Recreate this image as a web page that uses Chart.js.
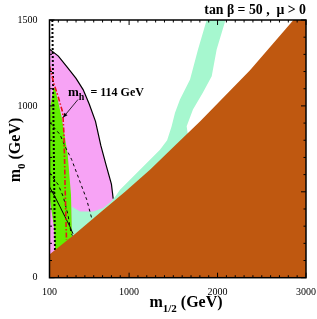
<!DOCTYPE html>
<html>
<head>
<meta charset="utf-8">
<script src="https://cdn.jsdelivr.net/npm/chart.js@4.4.1/dist/chart.umd.min.js"></script>
<style>
  body { margin: 0; background: #fff; }
  #wrap { width: 317px; height: 319px; }
</style>
</head>
<body>
<div id="wrap"><canvas id="plot"></canvas></div>
<script>
// axis ticks
const xTicks = [100, 1000, 2000, 3000];
const yTicks = [0, 1000, 1500];

// regions, [m1/2, m0] in GeV
const stauRegion = [[100, 0], [100, 135], [388, 255], [671, 378], [954, 501], [1236, 629],
  [1519, 769], [1801, 909], [2367, 1207], [2858, 1500], [3000, 1500], [3000, 0]];
const g2Region = [[90, 1335], [200, 1290], [300, 1225], [400, 1160], [480, 1095], [550, 1010],
  [620, 910], [680, 770], [740, 655], [800, 545], [820, 460], [820, 0], [90, 0]];
const relicRegion = [[1877, 1500], [2090, 1500], [1990, 1329], [1934, 1173], [1835, 1078],
  [1722, 979], [1651, 881], [1700, 700], [1200, 400], [351, 100], [351, 414], [445, 385],
  [595, 385], [708, 405], [790, 440], [840, 470], [897, 512], [1010, 570], [1123, 629],
  [1236, 687], [1349, 745], [1430, 800], [1480, 880], [1519, 960], [1575, 1037],
  [1689, 1154], [1779, 1329]];
const bsgRegion = [[162, 1107], [200, 1020], [238, 932], [306, 716], [343, 483], [354, 249],
  [354, 0], [165, 0], [165, 150], [150, 300], [120, 400], [95, 500], [95, 800], [110, 1000],
  [140, 1090]];

// contours
const g2Edge = g2Region.slice(0, 11);
const higgsLine = [[100, 1230], [150, 1130], [200, 1050], [250, 960], [262, 850], [270, 700],
  [276, 540], [292, 220]];
const dashedA = [[100, 905], [219, 833], [275, 765], [351, 687], [449, 553], [521, 454], [580, 340]];
const dashedB = [[100, 611], [199, 541], [256, 471], [309, 366], [343, 261], [360, 245]];
const solidC = [[100, 529], [162, 471], [219, 413], [275, 355], [332, 296], [366, 255]];
const charginoLine = [[132, 1500], [162, 150]];
const higgsArrow = [[422, 1037], [253, 932]];
const higgsLabelAt = [309, 1078];

const pts = arr => arr.map(p => ({ x: p[0], y: p[1] }));

const serif = '"Liberation Serif", "DejaVu Serif", serif';

function area(data, color, order) {
  return {
    data: pts(data), showLine: true, fill: 'shape', backgroundColor: color,
    borderWidth: 0, pointRadius: 0, order: order, tension: 0
  };
}
function curve(data, dash, width, color, order) {
  return {
    data: pts(data), showLine: true, fill: false, borderColor: color || '#000',
    borderWidth: width, borderDash: dash, pointRadius: 0, order: order, tension: 0
  };
}

// subscript text helper
function drawSub(ctx, parts, x, y, align) {
  let total = 0;
  parts.forEach(p => { ctx.font = p.font; total += ctx.measureText(p.t).width; });
  let cx = align === 'center' ? x - total / 2 : (align === 'right' ? x - total : x);
  parts.forEach(p => {
    ctx.font = p.font;
    ctx.fillText(p.t, cx, y + (p.dy || 0));
    cx += ctx.measureText(p.t).width;
  });
}

const decor = {
  id: 'decor',
  afterDatasetsDraw(chart) {
    const { ctx, chartArea: a, scales: { x, y } } = chart;
    ctx.save();
    ctx.strokeStyle = '#000';
    ctx.fillStyle = '#000';
    // inward ticks
    ctx.lineWidth = 1;
    for (let v = 100; v <= 3000; v += 100) {
      const px = x.getPixelForValue(v);
      const len = v % 1000 === 0 ? 5 : 2.5;
      ctx.beginPath();
      ctx.moveTo(px, a.bottom); ctx.lineTo(px, a.bottom - len);
      ctx.moveTo(px, a.top); ctx.lineTo(px, a.top + len);
      ctx.stroke();
    }
    for (let v = 0; v <= 1500; v += 100) {
      const py = y.getPixelForValue(v);
      const len = v % 500 === 0 ? 5 : 2.5;
      ctx.beginPath();
      ctx.moveTo(a.left, py); ctx.lineTo(a.left + len, py);
      ctx.moveTo(a.right, py); ctx.lineTo(a.right - len, py);
      ctx.stroke();
    }
    // frame
    ctx.lineWidth = 1.5;
    ctx.strokeRect(a.left, a.top, a.right - a.left, a.bottom - a.top);

    // arrow to the m_h line
    const x0 = x.getPixelForValue(higgsArrow[0][0]), y0 = y.getPixelForValue(higgsArrow[0][1]);
    const x1 = x.getPixelForValue(higgsArrow[1][0]), y1 = y.getPixelForValue(higgsArrow[1][1]);
    ctx.lineWidth = 0.8;
    ctx.beginPath(); ctx.moveTo(x0, y0); ctx.lineTo(x1, y1); ctx.stroke();
    const ang = Math.atan2(y1 - y0, x1 - x0);
    ctx.beginPath();
    ctx.moveTo(x1, y1);
    ctx.lineTo(x1 - 5 * Math.cos(ang - 0.4), y1 - 5 * Math.sin(ang - 0.4));
    ctx.lineTo(x1 - 5 * Math.cos(ang + 0.4), y1 - 5 * Math.sin(ang + 0.4));
    ctx.closePath(); ctx.fill();

    // m_h label
    ctx.textBaseline = 'alphabetic';
    const lx = x.getPixelForValue(higgsLabelAt[0]), ly = y.getPixelForValue(higgsLabelAt[1]);
    drawSub(ctx, [
      { t: 'm', font: 'bold 13px ' + serif },
      { t: 'h', font: 'bold 10px ' + serif, dy: 4 },
      { t: '  = 114 GeV', font: 'bold 12px ' + serif }
    ], lx, ly + 4, 'left');

    // title
    drawSub(ctx, [{ t: 'tan \u03B2 = 50 ,  \u03BC > 0', font: 'bold 13.8px ' + serif }], 306, 14, 'right');

    // x axis title
    drawSub(ctx, [
      { t: 'm', font: 'bold 16px ' + serif },
      { t: '1/2', font: 'bold 11px ' + serif, dy: 5 },
      { t: ' (GeV)', font: 'bold 16px ' + serif }
    ], 186, 307, 'center');

    // y axis title
    ctx.translate(20, 150);
    ctx.rotate(-Math.PI / 2);
    drawSub(ctx, [
      { t: 'm', font: 'bold 16px ' + serif },
      { t: '0', font: 'bold 11px ' + serif, dy: 5 },
      { t: ' (GeV)', font: 'bold 16px ' + serif }
    ], 0, 0, 'center');
    ctx.restore();
  }
};

new Chart(document.getElementById('plot').getContext('2d'), {
  type: 'scatter',
  data: {
    datasets: [
      area(stauRegion, '#bf5810', 1),
      curve(higgsLine, [5, 2, 1.5, 2], 1.6, '#e8141e', 2),
      curve(charginoLine, [2, 2], 2, '#000', 3),
      curve(dashedA, [3, 3], 1, '#000', 3),
      curve(dashedB, [3, 3], 1, '#000', 3),
      curve(solidC, [], 1, '#000', 3),
      curve(g2Edge, [], 1.2, '#000', 3),
      area(bsgRegion, '#62ee00', 5),
      area(relicRegion, '#a6f7cf', 6),
      area(g2Region, '#f7a3f5', 7)
    ]
  },
  options: {
    responsive: true,
    maintainAspectRatio: false,
    animation: false,
    layout: { padding: { top: 20, right: 10.5, left: 0, bottom: 0 } },
    plugins: { legend: { display: false }, tooltip: { enabled: false } },
    scales: {
      x: {
        type: 'linear', min: 100, max: 3000,
        afterBuildTicks: s => { s.ticks = xTicks.map(v => ({ value: v })); },
        afterFit: s => { s.height = 41.3; },
        grid: { display: false }, border: { display: false },
        ticks: { color: '#000', font: { family: serif, size: 10 }, padding: 1, maxRotation: 0,
          callback: v => String(v) }
      },
      y: {
        type: 'linear', min: 0, max: 1500,
        afterBuildTicks: s => { s.ticks = yTicks.map(v => ({ value: v })); },
        afterFit: s => { s.width = 49.5; },
        grid: { display: false }, border: { display: false },
        ticks: { color: '#000', font: { family: serif, size: 10 }, padding: 4,
          callback: v => String(v) }
      }
    }
  },
  plugins: [decor]
});
</script>
</body>
</html>
